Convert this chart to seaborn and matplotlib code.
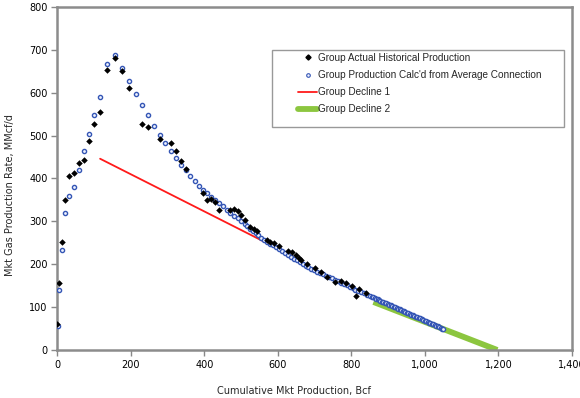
import matplotlib
matplotlib.use("Agg")
import matplotlib.pyplot as plt
from matplotlib.patches import Rectangle
from matplotlib.lines import Line2D
from matplotlib.ticker import FuncFormatter
import seaborn as sns
import pandas as pd

# Group actual historical production (Bcf, MMcf/d)
actual_cum = [0, 5, 11, 20, 32, 44, 58, 71, 85, 100, 117, 135, 156, 176, 195,
              230, 247, 278, 308, 322, 336, 349, 397, 407, 419, 429, 440, 470,
              480, 490, 499, 509, 525, 534, 543, 570, 579, 588, 602, 627, 639,
              648, 657, 663, 680, 700, 716, 733, 755, 771, 784, 802, 813, 820, 839]
actual_rate = [60, 156, 253, 350, 405, 412, 435, 444, 488, 526, 556, 653, 681, 651, 611,
               527, 521, 492, 483, 465, 441, 423, 366, 349, 351, 345, 327, 326,
               329, 324, 315, 304, 286, 283, 277, 257, 253, 250, 243, 232, 228,
               222, 214, 210, 200, 192, 183, 170, 158, 160, 156, 150, 125, 142, 134]

# Group production calc'd from average connection
calc_cum = [1, 5, 11, 20, 31, 44, 58, 71, 85, 100, 117, 135, 156, 176, 195, 214,
            230, 247, 262, 278, 293, 308, 322, 336, 349, 361, 374, 386, 397, 407,
            419, 429, 440, 450, 460, 470, 480, 490, 499, 509, 517, 523,
            531, 539, 547, 555, 563, 571, 579, 587, 595, 603, 611, 619, 627, 635,
            643, 651, 659, 667, 675, 683, 691, 699, 707, 715, 723, 731, 739, 747,
            755, 763, 771, 779, 787, 795, 803, 811, 819, 827, 835, 843, 851,
            855, 859, 863, 867, 871, 875, 879, 883, 887, 891, 895, 899, 903, 907,
            911, 915, 919, 923, 927, 931, 935, 939, 943, 947, 951, 955, 959, 963,
            967, 971, 975, 979, 983, 987, 991, 995, 999, 1003, 1007, 1011, 1015,
            1019, 1023, 1027, 1031, 1035, 1039, 1043, 1047, 1050]
calc_rate = [55, 140, 234, 319, 359, 380, 419, 463, 504, 548, 590, 667, 688, 657, 628, 598,
             572, 547, 522, 501, 483, 464, 448, 432, 419, 405, 393, 383, 373, 365,
             357, 350, 342, 335, 327, 320, 313, 307, 301, 294, 288, 282,
             277, 272, 267, 262, 257, 252, 248, 244, 240, 235, 231, 226, 222, 218,
             213, 209, 205, 201, 197, 193, 190, 186, 183, 180, 177, 173, 170, 167,
             164, 160, 157, 154, 151, 147, 144, 141, 138, 135, 132, 129, 125,
             124, 122.5, 121, 119.5, 118, 116.5, 115, 113, 111.5, 110, 108.5, 107, 105.5, 104,
             102.5, 101, 99.5, 98, 96.5, 95, 93.5, 91.5, 90, 88.5, 87, 85.5, 84, 82.5,
             81, 79.5, 78, 76.5, 75, 73.5, 71.5, 70, 68.5, 67, 65.5, 64, 62.5,
             61, 59.5, 58, 56.5, 55, 53, 51.5, 50, 49]

# decline lines (end points)
decline1_cum = [116, 610]
decline1_rate = [446, 232]
decline2_cum = [860, 1197]
decline2_rate = [112, 0]

legend_labels = ["Group Actual Historical Production",
                 "Group Production Calc'd from Average Connection",
                 "Group Decline 1",
                 "Group Decline 2"]

sns.set_style("white")
plt.rcParams['font.family'] = ['DejaVu Sans']

fig = plt.figure(figsize=(5.8, 3.98), dpi=100)
ax = fig.add_axes([0.0991, 0.1206, 0.887, 0.862])

d1 = pd.DataFrame({'cum': decline1_cum, 'rate': decline1_rate})
d2 = pd.DataFrame({'cum': decline2_cum, 'rate': decline2_rate})
act = pd.DataFrame({'cum': actual_cum, 'rate': actual_rate})
calc = pd.DataFrame({'cum': calc_cum, 'rate': calc_rate})

sns.lineplot(x='cum', y='rate', data=d2, ax=ax, color='#8cc63f', linewidth=4.2,
             zorder=1, solid_capstyle='butt')
sns.lineplot(x='cum', y='rate', data=d1, ax=ax, color='#ff1a1a', linewidth=1.3, zorder=2)
sns.scatterplot(x='cum', y='rate', data=calc, ax=ax, marker='o', s=9,
                facecolor='#eef2ff', edgecolor='#3556b5', linewidth=1.0, zorder=3)
sns.scatterplot(x='cum', y='rate', data=act, ax=ax, marker='D', s=11,
                color='black', linewidth=0, zorder=4)

ax.set_xlim(0, 1400)
ax.set_ylim(0, 800)
ax.set_xticks(range(0, 1401, 200))
ax.set_yticks(range(0, 801, 100))
ax.xaxis.set_major_formatter(FuncFormatter(lambda v, p: f"{int(v):,}"))
ax.tick_params(axis='both', labelsize=7, length=4, width=1, color='#888888',
               direction='out', pad=3, labelcolor='black')
ax.tick_params(axis='x', bottom=True)
ax.tick_params(axis='y', left=True)
for sp in ax.spines.values():
    sp.set_color('#8c8c8c')
    sp.set_linewidth(1.8)

ax.set_xlabel("Cumulative Mkt Production, Bcf", fontsize=7)
ax.set_ylabel("Mkt Gas Production Rate, MMcf/d", fontsize=7)
ax.xaxis.set_label_coords(0.46, -0.105)
ax.yaxis.set_label_coords(-0.083, 0.452)

# legend box
ax.add_patch(Rectangle((0.417, 0.650), 0.567, 0.225, transform=ax.transAxes,
                       facecolor='white', edgecolor='#999999', linewidth=1, zorder=5))
handles = [Line2D([], [], linestyle='none', marker='D', markersize=2.6, color='black'),
           Line2D([], [], linestyle='none', marker='o', markersize=2.6, markerfacecolor='#eef2ff',
                  markeredgecolor='#3556b5', markeredgewidth=0.8),
           Line2D([], [], color='#ff1a1a', linewidth=1.3),
           Line2D([], [], color='#8cc63f', linewidth=4.2, solid_capstyle='round')]
leg = ax.legend(handles, legend_labels, loc='upper left', bbox_to_anchor=(0.4675, 0.866),
                frameon=False, borderpad=0, borderaxespad=0, handlelength=1.95,
                handletextpad=0.05, labelspacing=0.72,
                prop={'family': 'Liberation Sans', 'size': 7.2})
leg.set_zorder(6)

fig.savefig("out.png", dpi=100)
